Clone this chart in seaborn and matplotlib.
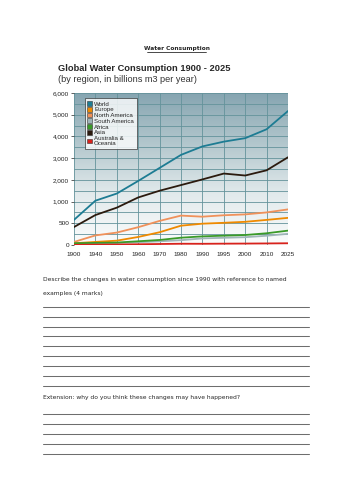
import numpy as np
import pandas as pd
import matplotlib
matplotlib.use('Agg')
import matplotlib.pyplot as plt
from matplotlib.lines import Line2D
from matplotlib.patches import Patch
import seaborn as sns

# --- dados (bilhões de m3 por ano) ---
years = [1900, 1940, 1950, 1960, 1970, 1980, 1990, 1995, 2000, 2010, 2025]
world = [579, 1040, 1370, 1950, 2550, 3150, 3540, 3760, 3920, 4330, 5170]
europe = [40, 71, 100, 185, 294, 445, 491, 511, 534, 578, 625]
north_america = [70, 221, 286, 410, 555, 677, 652, 685, 705, 750, 820]
south_america = [15, 28, 45, 64, 85, 111, 152, 166, 180, 213, 257]
africa = [41, 49, 56, 86, 116, 168, 199, 215, 230, 270, 331]
asia = [414, 690, 860, 1190, 1500, 1760, 2020, 2290, 2200, 2440, 3040]
australia = [2, 7, 10, 17, 23, 29, 28, 31, 33, 36, 40]

regions = ['World', 'Europe', 'North America', 'South America', 'Africa', 'Asia',
           'Australia &\nOceania']
series = [world, europe, north_america, south_america, africa, asia, australia]
colors = ['#1d7c93', '#ef8a00', '#f0915a', '#9fb5b8', '#3a9a28', '#2b1a0e', '#d8221c']

y_ticks = [0, 500, 1000, 2000, 3000, 4000, 5000, 6000]
y_labels = ['0', '500', '1,000', '2,000', '3,000', '4,000', '5,000', '6,000']
y_minor = [250, 750, 1500, 2500, 3500, 4500, 5500]

df = pd.DataFrame({
    'year': years * len(regions),
    'value': sum(series, []),
    'region': np.repeat(regions, len(years)),
})

# escalas não lineares (eixos igualmente espaçados)
idx = np.arange(len(years))
def x_fwd(x):
    return np.interp(x, years, idx)
def x_inv(i):
    return np.interp(i, idx, years)
y_pos = np.arange(len(y_ticks))
def y_fwd(v):
    return np.interp(v, y_ticks, y_pos, right=np.nan)
def y_inv(p):
    return np.interp(p, y_pos, y_ticks)

sns.set_style('white')
plt.rcParams['font.family'] = ['Liberation Sans', 'DejaVu Sans']

W, H = 354, 500
fig = plt.figure(figsize=(W / 100, H / 100), dpi=100)

L, T, R, B = 74, 93, 288, 245
rect = [L / W, 1 - B / H, (R - L) / W, (B - T) / H]

# fundo em degradê
bg = fig.add_axes(rect, zorder=0)
grad = np.linspace(0, 1, 256).reshape(-1, 1)
cmap = matplotlib.colors.LinearSegmentedColormap.from_list(
    'bg', ['#86a5b1', '#b3c7cd', '#e2eaec', '#fbfcfc'])
bg.imshow(grad, aspect='auto', cmap=cmap, extent=(0, 1, 0, 1))
bg.axis('off')

ax = fig.add_axes(rect, zorder=1)
ax.patch.set_alpha(0)
ax.set_xscale('function', functions=(x_fwd, x_inv))
ax.set_yscale('function', functions=(y_fwd, y_inv))

sns.lineplot(data=df, x='year', y='value', hue='region', hue_order=regions,
             palette=dict(zip(regions, colors)), linewidth=1.3, ax=ax,
             legend=False, sort=False)

ax.set_xlim(1900, 2025)
ax.set_ylim(0, 6000)
ax.set_xticks(years)
ax.set_xticklabels([str(y) for y in years])
ax.set_yticks(y_ticks)
ax.set_yticklabels(y_labels)
ax.set_yticks(y_minor, minor=True)
ax.grid(True, which='major', color='#64939b', lw=0.6)
ax.grid(True, which='minor', axis='y', color='#64939b', lw=0.6)
ax.set_axisbelow(True)
ax.tick_params(axis='both', which='major', labelsize=4.6, colors='#222222', pad=1.5)
ax.tick_params(axis='y', which='major', left=True, length=2, width=0.5)
ax.tick_params(axis='x', which='major', bottom=False)
ax.tick_params(which='minor', left=False, bottom=False)
ax.set_xlabel('')
ax.set_ylabel('')
for s in ax.spines.values():
    s.set_visible(False)

handles = [Patch(facecolor=c, edgecolor='#333333', linewidth=0.4, label=r)
           for r, c in zip(regions, colors)]
leg = ax.legend(handles=handles, loc='upper left', bbox_to_anchor=(0.05, 0.965),
                fontsize=4.4, frameon=True, fancybox=False, handlelength=0.8,
                handleheight=0.8, handletextpad=0.3, labelspacing=0.05,
                borderpad=0.45, borderaxespad=0)
leg.get_frame().set_edgecolor('#333333')
leg.get_frame().set_linewidth(0.6)
leg.get_frame().set_facecolor('white')

# --- textos da folha ---
def fy(y):
    return 1 - y / H

fig.text(176.5 / W, fy(48.5), 'Water Consumption', ha='center', va='center',
         fontsize=4.2, fontweight='bold', family='DejaVu Sans')
fig.add_artist(Line2D([147 / W, 206 / W], [fy(52), fy(52)], color='black', lw=0.5))

fig.text(58 / W, fy(68.5), 'Global Water Consumption 1900 - 2025', ha='left',
         va='center', fontsize=6.7, fontweight='bold')
fig.text(58 / W, fy(80), '(by region, in billions m3 per year)', ha='left',
         va='center', fontsize=6.6, color='#333333')

fig.text(43 / W, fy(280), 'Describe the changes in water consumption since 1990 with reference to named',
         ha='left', va='center', fontsize=4.3, family='DejaVu Sans')
fig.text(43 / W, fy(293), 'examples (4 marks)', ha='left', va='center',
         fontsize=4.3, family='DejaVu Sans')
fig.text(43 / W, fy(398), 'Extension: why do you think these changes may have happened?',
         ha='left', va='center', fontsize=4.3, family='DejaVu Sans')

for y in np.linspace(306.7, 386, 9).tolist() + np.linspace(414.3, 454, 5).tolist():
    fig.add_artist(Line2D([43 / W, 309 / W], [fy(y), fy(y)], color='#6e6e6e', lw=0.75))

plt.savefig('out.png', dpi=100)
